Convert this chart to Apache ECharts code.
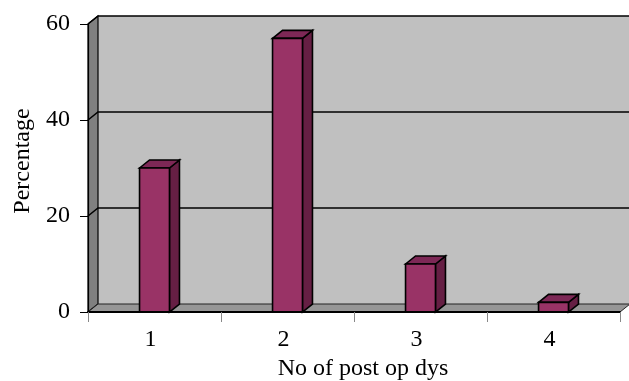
<!DOCTYPE html>
<html>
<head>
	<meta charset="utf-8" />
	<title>No of post op days</title>
	<script src="https://cdn.jsdelivr.net/npm/echarts@6/dist/echarts.min.js"></script>
	<style>
		html, body { margin: 0; padding: 0; background: #ffffff; }
		#main { width: 629px; height: 381px; }
	</style>
</head>
<body>
	<div id="main"></div>
	<script type="text/javascript">
		// data
		var days = ['1', '2', '3', '4'];
		var percentages = [30, 57, 10, 2];
		var yTicks = [0, 20, 40, 60];

		var FONT = 'Liberation Serif';
		var DX = 10, DY = -8; // depth of the 3d look

		var myChart = echarts.init(document.getElementById('main'), null, { renderer: 'canvas' });

		// walls, floor and gridlines
		function renderWalls(params, api) {
			var cs = params.coordSys;
			var x0 = cs.x, x1 = cs.x + cs.width;
			var yTop = api.coord([0, yTicks[yTicks.length - 1]])[1];
			var yBot = api.coord([0, yTicks[0]])[1];
			var children = [];
			// back wall
			children.push({
				type: 'rect',
				shape: { x: x0 + DX, y: yTop + DY, width: x1 - x0, height: yBot - yTop },
				style: { fill: '#c0c0c0', stroke: null }
			});
			// left wall
			children.push({
				type: 'polygon',
				shape: { points: [[x0, yTop], [x0 + DX, yTop + DY], [x0 + DX, yBot + DY], [x0, yBot]] },
				style: { fill: '#808080', stroke: '#000', lineWidth: 1.2 }
			});
			// floor
			children.push({
				type: 'polygon',
				shape: { points: [[x0, yBot], [x0 + DX, yBot + DY], [x1 + DX, yBot + DY], [x1, yBot]] },
				style: { fill: '#969696', stroke: '#222', lineWidth: 1 }
			});
			// gridlines on the back wall + diagonals on the left wall
			for (var i = 1; i < yTicks.length; i++) {
				var y = api.coord([0, yTicks[i]])[1];
				children.push({
					type: 'polyline',
					shape: { points: [[x0, y], [x0 + DX, y + DY], [x1 + DX, y + DY]] },
					style: { stroke: '#000', lineWidth: 1.6, fill: null }
				});
			}
			return { type: 'group', children: children };
		}

		function renderBar(params, api) {
			var top = api.coord([api.value(0), api.value(1)]);
			var base = api.coord([api.value(0), 0]);
			var w = api.size([1, 0])[0] * 0.225;
			var x = top[0] - w / 2;
			var lineStyle = { stroke: '#000', lineWidth: 1.6 };
			return {
				type: 'group',
				children: [{
					type: 'polygon',
					shape: { points: [[x + w, top[1]], [x + w + DX, top[1] + DY], [x + w + DX, base[1] + DY], [x + w, base[1]]] },
					style: Object.assign({ fill: '#661f44' }, lineStyle)
				}, {
					type: 'polygon',
					shape: { points: [[x, top[1]], [x + DX, top[1] + DY], [x + w + DX, top[1] + DY], [x + w, top[1]]] },
					style: Object.assign({ fill: '#7d2856' }, lineStyle)
				}, {
					type: 'rect',
					shape: { x: x, y: top[1], width: w, height: base[1] - top[1] },
					style: Object.assign({ fill: '#993366' }, lineStyle)
				}]
			};
		}

		var option = {
			backgroundColor: '#ffffff',
			animation: false,
			grid: { left: 88, right: 9, top: 24, bottom: 69, outerBoundsMode: 'none', containLabel: false },
			xAxis: {
				type: 'category',
				data: days,
				boundaryGap: true,
				z: 10,
				name: 'No of post op dys',
				nameLocation: 'middle',
				nameGap: 44,
				nameTextStyle: { fontFamily: FONT, fontSize: 24, color: '#000', padding: [0, 0, 0, 18] },
				axisLine: { show: true, lineStyle: { color: '#000', width: 2 } },
				axisTick: { show: true, length: 10, lineStyle: { color: '#888' } },
				axisLabel: { fontFamily: FONT, fontSize: 24, color: '#000', margin: 16, padding: [0, 8, 0, 0] },
				splitLine: { show: false }
			},
			yAxis: {
				type: 'value',
				min: 0,
				max: 60,
				interval: 20,
				z: 10,
				name: 'Percentage',
				nameLocation: 'middle',
				nameGap: 45,
				nameTextStyle: { fontFamily: FONT, fontSize: 24, color: '#000', padding: [0, 0, 0, 14] },
				axisLine: { show: true, lineStyle: { color: '#000', width: 1.2 } },
				axisTick: { show: true, length: 8, lineStyle: { color: '#000' } },
				axisLabel: { fontFamily: FONT, fontSize: 24, color: '#000', margin: 18 },
				splitLine: { show: false }
			},
			series: [{
				type: 'custom',
				name: 'walls',
				renderItem: renderWalls,
				data: [[0, 0]],
				z: 1,
				silent: true
			}, {
				type: 'custom',
				name: 'Percentage',
				renderItem: renderBar,
				data: days.map(function (d, i) { return [i, percentages[i]]; }),
				z: 3
			}]
		};

		myChart.setOption(option);
	</script>
</body>
</html>
